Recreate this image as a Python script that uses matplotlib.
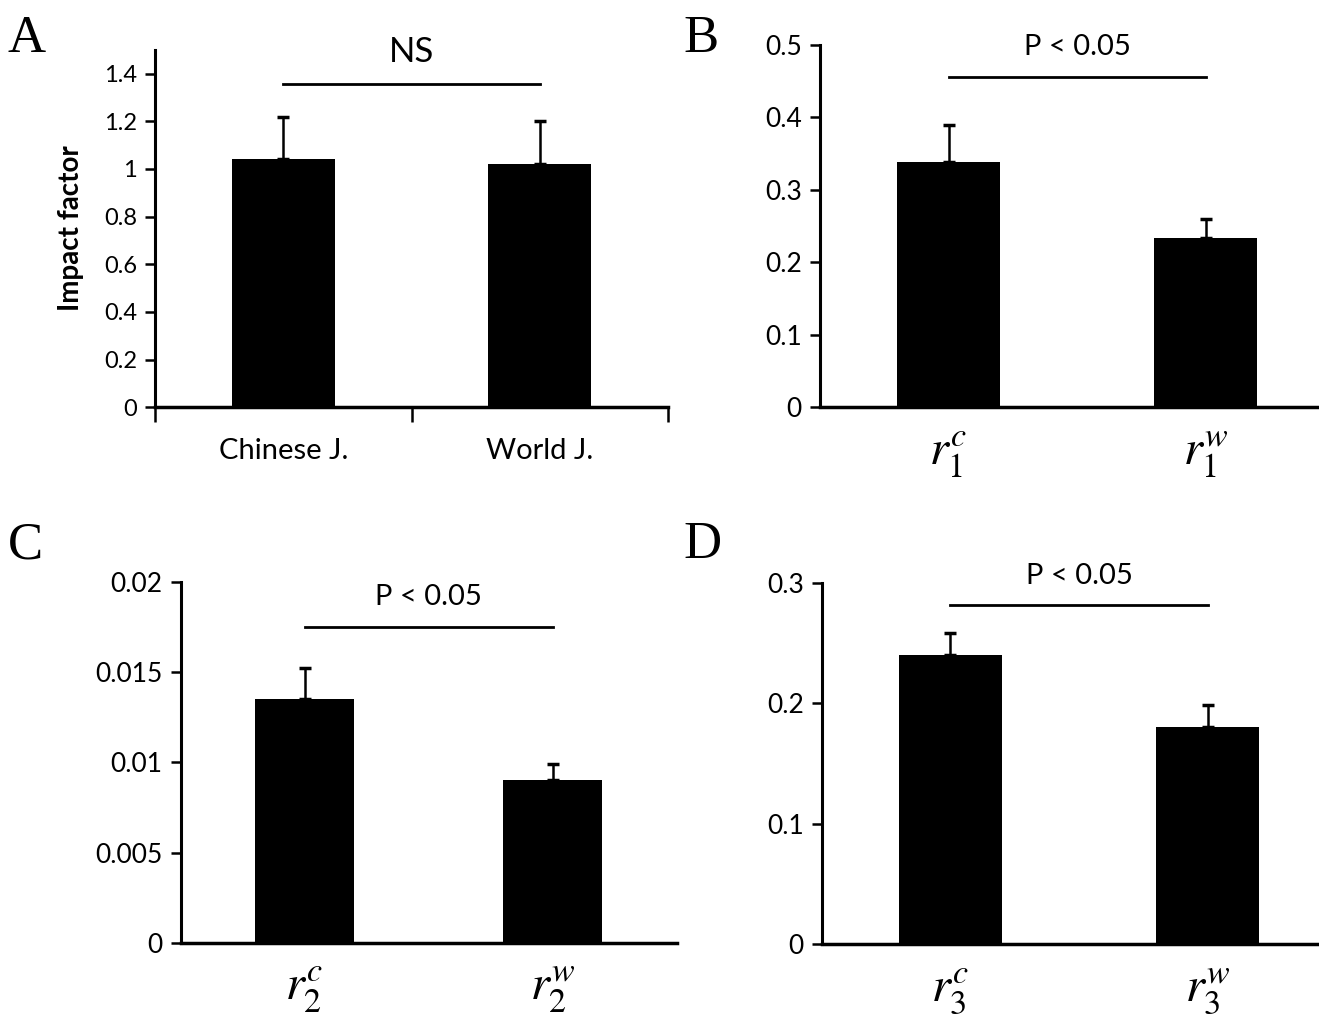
import matplotlib
matplotlib.use("Agg")
import matplotlib.pyplot as plt

# fonts: Calibri-like text, Times panel letters, math labels
plt.rcParams['font.family'] = ['Lato', 'DejaVu Sans']
plt.rcParams['mathtext.fontset'] = 'stix'

# panel A
a_labels = ["Chinese J.", "World J."]
a_means = [1.04, 1.02]
a_err = [0.18, 0.18]

# panel B
b_labels = [r"$r_1^c$", r"$r_1^w$"]
b_means = [0.338, 0.233]
b_err = [0.052, 0.026]

# panel C
c_labels = [r"$r_2^c$", r"$r_2^w$"]
c_means = [0.0135, 0.0090]
c_err = [0.0017, 0.0009]

# panel D
d_labels = [r"$r_3^c$", r"$r_3^w$"]
d_means = [0.240, 0.180]
d_err = [0.018, 0.018]

fig = plt.figure(figsize=(13.19, 10.18), dpi=100)


def draw_panel(rect, labels, means, err, ylim, yticks, ticklabels, sig_y, sig_text,
               letter, letter_pos, xfont, tickfont, sigfont, xpad, boundary_ticks=False):
    ax = fig.add_axes(rect)
    x = [0, 1]
    ax.bar(x, means, width=0.4, color="black", zorder=2)
    ax.errorbar(x, means, yerr=[[0, 0], err], fmt="none", ecolor="black",
                elinewidth=1.8, capsize=4, capthick=2.5, zorder=1)
    ax.set_xlim(-0.5, 1.5)
    ax.set_ylim(*ylim)
    ax.set_yticks(yticks)
    ax.set_yticklabels(ticklabels, fontsize=tickfont)
    ax.set_xticks(x)
    ax.set_xticklabels(labels, fontsize=xfont)
    ax.tick_params(axis="x", length=0, pad=xpad)
    ax.tick_params(axis="y", length=7, width=1.8, pad=6)
    if boundary_ticks:
        ax.set_xticks([-0.5, 0.5, 1.5], minor=True)
        ax.tick_params(axis="x", which="minor", length=11, width=1.8, direction="out")
    for s in ["top", "right"]:
        ax.spines[s].set_visible(False)
    ax.spines["left"].set_linewidth(2.2)
    ax.spines["bottom"].set_linewidth(2.5)
    ax.plot([0, 1], [sig_y, sig_y], color="black", lw=2, clip_on=False)
    ax.annotate(sig_text, xy=(0.5, sig_y), xytext=(0, 12), textcoords="offset points",
                ha="center", va="bottom", fontsize=sigfont, annotation_clip=False)
    fig.text(letter_pos[0], letter_pos[1], letter, fontsize=38,
             family="Liberation Serif", ha="left", va="top")
    return ax


axA = draw_panel([0.1175, 0.600, 0.389, 0.351], a_labels, a_means, a_err,
                 (0, 1.5), [0, 0.2, 0.4, 0.6, 0.8, 1.0, 1.2, 1.4],
                 ["0", "0.2", "0.4", "0.6", "0.8", "1", "1.2", "1.4"],
                 1.355, "NS", "A", (0.006, 0.985), 21, 17, 25, 22, boundary_ticks=True)
axA.set_ylabel("Impact factor", fontsize=20, fontweight="bold", labelpad=14)

draw_panel([0.6217, 0.600, 0.39, 0.356], b_labels, b_means, b_err,
           (0, 0.5), [0, 0.1, 0.2, 0.3, 0.4, 0.5],
           ["0", "0.1", "0.2", "0.3", "0.4", "0.5"],
           0.456, "P < 0.05", "B", (0.518, 0.985), 35, 19, 21, 16)

draw_panel([0.137, 0.0737, 0.376, 0.355], c_labels, c_means, c_err,
           (0, 0.02), [0, 0.005, 0.01, 0.015, 0.02],
           ["0", "0.005", "0.01", "0.015", "0.02"],
           0.0175, "P < 0.05", "C", (0.006, 0.488), 35, 19, 21, 16)

draw_panel([0.623, 0.0727, 0.39, 0.355], d_labels, d_means, d_err,
           (0, 0.3), [0, 0.1, 0.2, 0.3],
           ["0", "0.1", "0.2", "0.3"],
           0.281, "P < 0.05", "D", (0.518, 0.488), 35, 19, 21, 16)

fig.savefig("out.png", dpi=100)
